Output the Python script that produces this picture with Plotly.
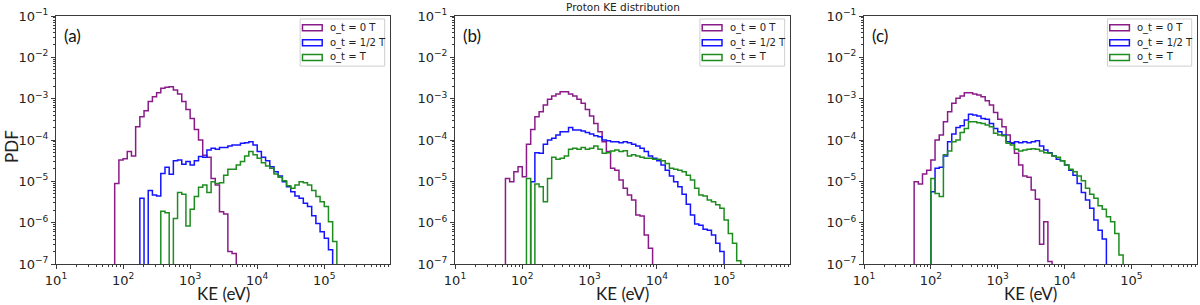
import plotly.graph_objects as go

# ---------------- data (PDF per logarithmic energy bin) ----------------
BINS_PER_DECADE = 16      # bin edges: 10**(1 + k/16) eV
LOG_E_MIN = 1

series_names = ["o_t = 0 T", "o_t = 1/2 T", "o_t = T"]
panel_labels = ["(a)", "(b)", "(c)"]
x_tick_vals = [1e1, 1e2, 1e3, 1e4, 1e5]
x_tick_text = ["10<sup>1</sup>", "10<sup>2</sup>", "10<sup>3</sup>", "10<sup>4</sup>", "10<sup>5</sup>"]
y_tick_vals = [1e-7, 1e-6, 1e-5, 1e-4, 1e-3, 1e-2, 1e-1]
y_tick_text = ["10<sup>\u22127</sup>", "10<sup>\u22126</sup>", "10<sup>\u22125</sup>", "10<sup>\u22124</sup>",
               "10<sup>\u22123</sup>", "10<sup>\u22122</sup>", "10<sup>\u22121</sup>"]

# panel (a)
a_t0_start = 14
a_t0 = [8.9e-6, 3.3e-5, 3.5e-5, 5.25e-5, 4.1e-5, 2.1e-4, 3.65e-4, 5.1e-4, 8.5e-4, 1.12e-3,
        1.40e-3, 1.78e-3, 1.88e-3, 1.95e-3, 1.62e-3, 1.30e-3, 8.5e-4, 5.5e-4, 3.3e-4, 1.8e-4,
        1.0e-4, 4.3e-5, 3.8e-5, 1.17e-5, 8.1e-6, 1.84e-6, 1.62e-6, 2.0e-7, 1.8e-7]
a_t1_start = 20
a_t1 = [3.9e-6, 0, 6.0e-6, 4.7e-6, 4.4e-6, 1.55e-5, 2.2e-5, 1.48e-5, 3.16e-5, 3.3e-5,
        2.6e-5, 3.0e-5, 2.5e-5, 3.16e-5, 4.0e-5, 3.8e-5, 5.75e-5, 6.3e-5, 6.0e-5, 6.6e-5,
        6.6e-5, 7.2e-5, 7.6e-5, 7.6e-5, 8.3e-5, 8.6e-5, 9.1e-5, 7.6e-5, 5.25e-5, 3.8e-5,
        3.16e-5, 2.26e-5, 1.7e-5, 1.35e-5, 9.8e-6, 7.4e-6, 5.6e-6, 4.4e-6, 3.9e-6, 2.95e-6,
        2.45e-6, 1.48e-6, 9.5e-7, 6.0e-7, 4.2e-7, 2.2e-7]
a_t2_start = 25
a_t2 = [1.9e-6, 1.74e-6, 0, 1.27e-6, 5.35e-6, 4.9e-6, 8.3e-7, 2.1e-6, 4.3e-6, 7.2e-6,
        8.1e-6, 5.35e-6, 9.8e-6, 8.9e-6, 9.3e-6, 1.41e-5, 1.95e-5, 1.95e-5, 2.5e-5, 3.0e-5,
        4.1e-5, 5.25e-5, 4.4e-5, 3.6e-5, 2.8e-5, 2.35e-5, 2.07e-5, 1.5e-5, 1.26e-5, 1.03e-5,
        7.8e-6, 6.8e-6, 8.1e-6, 9.8e-6, 9.3e-6, 8.1e-6, 6.0e-6, 4.3e-6, 3.2e-6, 2.45e-6,
        1.05e-6, 3.5e-7]

# panel (b)
b_t0_start = 12
b_t0 = [1.17e-5, 9.8e-6, 1.7e-5, 2.26e-5, 1.29e-5, 7.9e-5, 1.8e-4, 3.65e-4, 4.8e-4, 7.0e-4,
        9.7e-4, 1.16e-3, 1.30e-3, 1.48e-3, 1.48e-3, 1.30e-3, 1.16e-3, 9.7e-4, 7.8e-4, 5.5e-4,
        3.8e-4, 2.5e-4, 1.58e-4, 9.1e-5, 5.25e-5, 2.07e-5, 1.86e-5, 1.07e-5, 6.8e-6, 4.7e-6,
        3.55e-6, 1.53e-6, 1.45e-6, 5.0e-7, 2.4e-7]
b_t1_start = 18
b_t1 = [9.8e-6, 4.9e-5, 4.8e-5, 7.9e-5, 1.0e-4, 1.1e-4, 1.32e-4, 1.58e-4, 1.58e-4, 2.0e-4,
        1.74e-4, 1.74e-4, 1.66e-4, 1.51e-4, 1.4e-4, 1.27e-4, 1.2e-4, 1.0e-4, 9.6e-5, 9.1e-5,
        9.1e-5, 8.6e-5, 9.1e-5, 8.6e-5, 7.9e-5, 7.2e-5, 6.3e-5, 5.25e-5, 4.1e-5, 3.6e-5,
        3.16e-5, 2.5e-5, 1.86e-5, 1.35e-5, 9.8e-6, 7.4e-6, 4.9e-6, 2.8e-6, 1.53e-6, 9.3e-7,
        8.7e-7, 6.9e-7, 6.6e-7, 5.0e-7, 3.16e-7, 2.0e-7]
b_t2_start = 17
b_t2 = [1.17e-5, 0, 8.6e-6, 7.4e-6, 3.2e-6, 1.17e-5, 3.8e-5, 3.4e-5, 3.6e-5, 4.1e-5,
        6.0e-5, 6.3e-5, 6.0e-5, 6.6e-5, 6.0e-5, 6.3e-5, 7.2e-5, 6.0e-5, 4.8e-5, 4.9e-5,
        5.4e-5, 5.75e-5, 5.25e-5, 5.5e-5, 4.1e-5, 4.4e-5, 4.1e-5, 3.8e-5, 3.6e-5, 3.6e-5,
        3.4e-5, 3.4e-5, 3.16e-5, 2.7e-5, 2.07e-5, 1.95e-5, 1.86e-5, 1.7e-5, 1.41e-5, 1.07e-5,
        6.8e-6, 4.7e-6, 4.4e-6, 3.55e-6, 3.2e-6, 2.7e-6, 2.24e-6, 1.16e-6, 5.5e-7, 3.16e-7,
        1.2e-7]

# panel (c)
c_t0_start = 12
c_t0 = [9.8e-6, 8.6e-6, 1.5e-5, 1.86e-5, 3.3e-5, 1.0e-4, 1.32e-4, 2.75e-4, 4.8e-4, 7.8e-4,
        1.02e-3, 1.16e-3, 1.40e-3, 1.40e-3, 1.30e-3, 1.23e-3, 1.12e-3, 8.9e-4, 7.0e-4, 4.6e-4,
        3.16e-4, 2.1e-4, 1.32e-4, 8.6e-5, 4.8e-5, 2.5e-5, 1.35e-5, 1.26e-5, 6.2e-6, 3.7e-6,
        3.0e-7, 1.05e-6, 1.15e-7]
c_t1_start = 16
c_t1 = [5.6e-6, 2.07e-5, 2.2e-5, 4.1e-5, 9.1e-5, 1.4e-4, 2.0e-4, 2.2e-4, 3.05e-4, 4.2e-4,
        4.0e-4, 3.8e-4, 3.3e-4, 3.16e-4, 2.5e-4, 1.9e-4, 1.58e-4, 1.32e-4, 9.1e-5, 8.3e-5,
        9.1e-5, 8.6e-5, 9.1e-5, 8.6e-5, 9.1e-5, 9.6e-5, 7.2e-5, 5.75e-5, 4.9e-5, 4.1e-5,
        3.4e-5, 3.16e-5, 2.5e-5, 1.86e-5, 1.41e-5, 8.9e-6, 5.35e-6, 3.55e-6, 2.24e-6, 1.16e-6,
        6.6e-7, 4.0e-7]
c_t2_start = 16
c_t2 = [1.17e-5, 5.1e-6, 4.3e-6, 4.4e-5, 5.4e-5, 9.1e-5, 1.0e-4, 1.51e-4, 1.9e-4, 2.75e-4,
        2.75e-4, 2.63e-4, 2.5e-4, 2.3e-4, 2.1e-4, 1.45e-4, 1.32e-4, 1.26e-4, 8.3e-5, 7.6e-5,
        6.0e-5, 5.4e-5, 5.75e-5, 6.0e-5, 6.1e-5, 6.0e-5, 5.4e-5, 4.9e-5, 4.8e-5, 4.1e-5,
        3.8e-5, 3.16e-5, 2.5e-5, 1.95e-5, 1.7e-5, 1.35e-5, 1.03e-5, 6.8e-6, 4.9e-6, 3.9e-6,
        2.57e-6, 2.1e-6, 1.4e-6, 1.05e-6, 5.5e-7, 1.66e-7]

panels = [
    [(a_t0_start, a_t0), (a_t1_start, a_t1), (a_t2_start, a_t2)],
    [(b_t0_start, b_t0), (b_t1_start, b_t1), (b_t2_start, b_t2)],
    [(c_t0_start, c_t0), (c_t1_start, c_t1), (c_t2_start, c_t2)],
]

# ---------------- styling ----------------
colors = ["#8a1c8a", "#1414ff", "#1e8c1e"]
W, H = 1200, 305
x_px = [(56, 390), (455, 790), (864, 1197)]
y_top, y_bot = 16, 264
AX_COLOR = "#3a3a3a"
TICK_FONT = dict(family="DejaVu Sans", size=13, color="#222222")
LABEL_FONT = dict(family="Lato, Open Sans, sans-serif", size=17, color="#222222")

x_minor_vals = [m * 10 ** e for e in range(1, 6) for m in range(2, 10)]
y_minor_vals = [m * 10.0 ** e for e in range(-7, -1) for m in range(2, 10)]


def step_xy(start, vals, floor=1e-12):
    n = len(vals)
    edges = [10 ** (LOG_E_MIN + (start + i) / BINS_PER_DECADE) for i in range(n + 1)]
    xs = [edges[0]] + edges
    ys = [floor] + [v if v > 0 else floor for v in vals] + [floor]
    return xs, ys


fig = go.Figure()
shapes = []
annotations = []

for p, series in enumerate(panels):
    sfx = "" if p == 0 else str(p + 1)
    xa, ya = "x" + sfx, "y" + sfx
    for s, (start, vals) in enumerate(series):
        xs, ys = step_xy(start, vals)
        fig.add_trace(go.Scatter(x=xs, y=ys, mode="lines", line=dict(color=colors[s], width=1.5, shape="hv"),
                                 xaxis=xa, yaxis=ya, showlegend=False, hoverinfo="skip",
                                 name=series_names[s]))
    x0, x1 = x_px[p]
    fig.layout["xaxis" + sfx] = dict(
        domain=[x0 / W, x1 / W], anchor=ya, type="log", range=[1, 5.98], automargin=False,
        tickvals=x_tick_vals, ticktext=x_tick_text, ticks="outside", ticklen=4, tickwidth=1,
        tickcolor=AX_COLOR, showline=True, linecolor=AX_COLOR, linewidth=1, mirror=True,
        showgrid=False, zeroline=False, tickfont=TICK_FONT,
        minor=dict(tickvals=x_minor_vals, ticks="outside", ticklen=2, tickcolor=AX_COLOR, showgrid=False),
    )
    fig.layout["yaxis" + sfx] = dict(
        domain=[1 - y_bot / H, 1 - y_top / H], anchor=xa, type="log", range=[-7, -1], automargin=False,
        tickvals=y_tick_vals, ticktext=y_tick_text, ticks="outside", ticklen=4, tickwidth=1,
        tickcolor=AX_COLOR, showline=True, linecolor=AX_COLOR, linewidth=1, mirror=True,
        showgrid=False, zeroline=False, tickfont=TICK_FONT,
        minor=dict(tickvals=y_minor_vals, ticks="outside", ticklen=2, tickcolor=AX_COLOR, showgrid=False),
    )
    xd, yd = xa + " domain", ya + " domain"
    # legend frame
    shapes.append(dict(type="rect", xref=xd, yref=yd, x0=0.731, x1=0.984, y0=0.798, y1=0.988,
                       line=dict(color="#cfcfcf", width=1), fillcolor="rgba(255,255,255,0.8)", layer="above"))
    rows = [0.953, 0.892, 0.833]
    for s in range(3):
        shapes.append(dict(type="rect", xref=xd, yref=yd, x0=0.738, x1=0.797, y0=rows[s] - 0.012,
                           y1=rows[s] + 0.012, line=dict(color=colors[s], width=1.5), layer="above"))
        annotations.append(dict(xref=xd, yref=yd, x=0.815, y=rows[s], text=series_names[s], showarrow=False,
                                xanchor="left", yanchor="middle",
                                font=dict(family="DejaVu Sans", size=10, color="#222222")))
    annotations.append(dict(xref=xd, yref=yd, x=0.018, y=0.923, text=panel_labels[p], showarrow=False,
                            xanchor="left", yanchor="middle", font=dict(family="Lato, sans-serif", size=17,
                                                                          color="#111111")))
    annotations.append(dict(xref="paper", yref="paper", x=(x0 + x1) / 2 / W, y=1 - 293 / H, text="KE (eV)",
                            showarrow=False, xanchor="center", yanchor="middle", font=LABEL_FONT))

annotations.append(dict(xref="paper", yref="paper", x=11 / W, y=1 - 147 / H, text="PDF", textangle=-90,
                        showarrow=False, xanchor="center", yanchor="middle", font=LABEL_FONT))
annotations.append(dict(xref="paper", yref="paper", x=623 / W, y=1 - 7 / H, text="Proton KE distribution",
                        showarrow=False, xanchor="center", yanchor="middle",
                        font=dict(family="DejaVu Sans", size=10.5, color="#222222")))

fig.update_layout(width=W, height=H, margin=dict(l=0, r=0, t=0, b=0, autoexpand=False), plot_bgcolor="white",
                  paper_bgcolor="white", shapes=shapes, annotations=annotations, showlegend=False)

fig.write_html("out.html", config={"displayModeBar": False},
               post_script="document.body.style.margin='0px';document.body.style.overflow='hidden';")
